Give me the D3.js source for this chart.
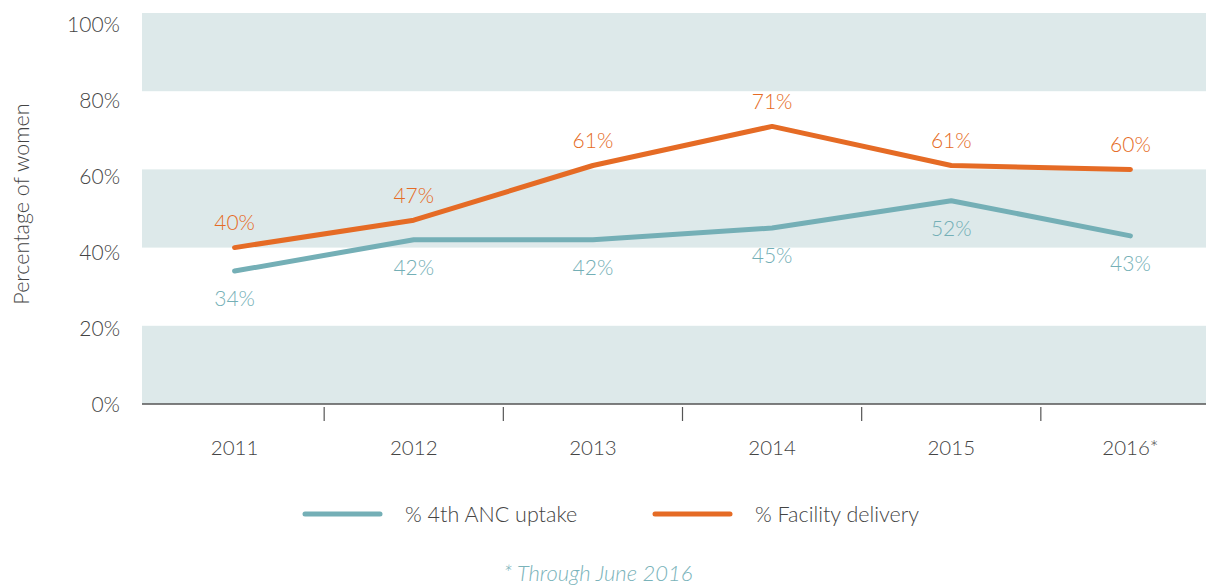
<!DOCTYPE html>
<html>
<head>
<meta charset="utf-8">
<script src="https://cdn.jsdelivr.net/npm/d3@7"></script>
<style>
  body { margin: 0; background: #fff; }
  svg { display: block; font-family: Lato, "Open Sans", sans-serif; font-weight: 300; }
</style>
</head>
<body>
<div id="chart"></div>
<script>
// chart data
const years = ["2011", "2012", "2013", "2014", "2015", "2016*"];
const ancUptake = [34, 42, 42, 45, 52, 43];
const facilityDelivery = [40, 47, 61, 71, 61, 60];
const yTicks = [0, 20, 40, 60, 80, 100];
const bands = [[0, 20], [40, 60], [80, 100]];
const seriesNames = ["% 4th ANC uptake", "% Facility delivery"];

const W = 1206, H = 587;
const teal = "#74afb6", orange = "#e56b25", textCol = "#444";

const svg = d3.select("#chart").append("svg").attr("width", W).attr("height", H);

const x = d3.scaleBand().domain(years).range([145, 1220]);
const y = d3.scaleLinear().domain([0, 100]).range([404, 13]);
// tick labels in the original sit on a slightly tighter spacing than the grid
const yLab = d3.scaleLinear().domain([0, 100]).range([405, 25]);

// ---- shaded bands ----
svg.append("g").selectAll("rect").data(bands).join("rect")
  .attr("x", 142).attr("width", W - 142)
  .attr("y", d => y(d[1])).attr("height", d => y(d[0]) - y(d[1]))
  .attr("fill", "#dde9ea");

// ---- y axis labels ----
const yAxis = svg.append("g").attr("transform", "translate(120,0)")
  .call(d3.axisLeft(yLab).tickValues(yTicks).tickSize(0).tickPadding(0).tickFormat(d => d + "%"));
yAxis.select(".domain").remove();
yAxis.selectAll("text").attr("font-size", 21).attr("fill", textCol)
  .attr("font-family", "Lato, sans-serif").attr("font-weight", 300);

svg.append("text")
  .attr("transform", "translate(29,204) rotate(-90)")
  .attr("text-anchor", "middle")
  .attr("font-size", 21.5).attr("fill", textCol)
  .text("Percentage of women");

// ---- x axis ----
svg.append("line").attr("x1", 142).attr("x2", W).attr("y1", y(0)).attr("y2", y(0))
  .attr("stroke", "#555").attr("stroke-width", 1.5);

svg.append("g").selectAll("line").data(years.slice(1)).join("line")
  .attr("x1", d => x(d)).attr("x2", d => x(d))
  .attr("y1", 407).attr("y2", 421)
  .attr("stroke", "#555").attr("stroke-width", 1.2);

svg.append("g").selectAll("text").data(years).join("text")
  .attr("x", d => x(d) + x.bandwidth() / 2)
  .attr("y", 455)
  .attr("text-anchor", "middle")
  .attr("font-size", 20.5).attr("fill", textCol)
  .text(d => d);

// ---- lines ----
const cx = (d, i) => x(years[i]) + x.bandwidth() / 2;
const line = d3.line().x(cx).y(d => y(d));

[[ancUptake, teal, 28], [facilityDelivery, orange, -25]].forEach(([vals, col, off]) => {
  svg.append("path").datum(vals)
    .attr("d", line)
    .attr("fill", "none")
    .attr("stroke", col)
    .attr("stroke-width", 5)
    .attr("stroke-linecap", "round")
    .attr("stroke-linejoin", "round");

  svg.append("g").selectAll("text").data(vals).join("text")
    .attr("x", cx)
    .attr("y", d => y(d) + off)
    .attr("dy", "0.35em")
    .attr("text-anchor", "middle")
    .attr("font-size", 21)
    .attr("fill", col)
    .text(d => d + "%");
});

// ---- legend ----
const legend = [
  { name: seriesNames[0], col: teal, x: 305 },
  { name: seriesNames[1], col: orange, x: 655 }
];
const lg = svg.append("g").selectAll("g").data(legend).join("g")
  .attr("transform", d => `translate(${d.x},514)`);
lg.append("line").attr("x1", 0).attr("x2", 75)
  .attr("stroke", d => d.col).attr("stroke-width", 5).attr("stroke-linecap", "round");
lg.append("text").attr("x", 100).attr("dy", "0.35em")
  .attr("font-size", 21.5).attr("fill", textCol)
  .text(d => d.name);

// footnote
svg.append("text")
  .attr("x", 598).attr("y", 581)
  .attr("text-anchor", "middle")
  .attr("font-size", 22).attr("font-style", "italic")
  .attr("fill", "#7ab3ba")
  .text("* Through June 2016");
</script>
</body>
</html>
